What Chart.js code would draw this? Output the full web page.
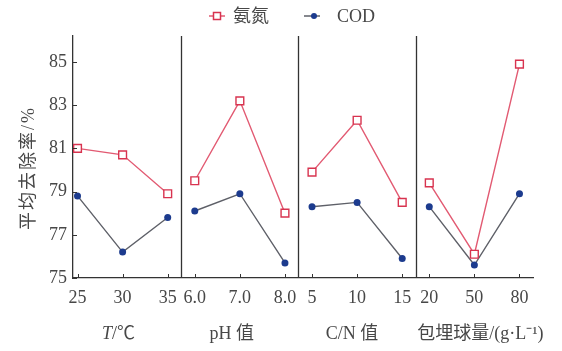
<!DOCTYPE html>
<html>
<head>
<meta charset="utf-8">
<script src="https://cdn.jsdelivr.net/npm/chart.js@4.4.1/dist/chart.umd.min.js"></script>
<style>
  html, body { margin: 0; padding: 0; background: #fff; }
  #wrap { width: 562px; height: 351px; position: relative; }
</style>
</head>
<body>
<div id="wrap"><canvas id="chart"></canvas></div>
<script>
// factor levels (one group per panel)
const tempLevels = ['25', '30', '35'];
const phLevels = ['6.0', '7.0', '8.0'];
const cnLevels = ['5', '10', '15'];
const beadLevels = ['20', '50', '80'];

// average removal rate, %
const ammoniaRemoval = [
  [81.0, 80.7, 78.9],
  [79.5, 83.2, 78.0],
  [79.9, 82.3, 78.5],
  [79.4, 76.1, 84.9]
];
const codRemoval = [
  [78.8, 76.2, 77.8],
  [78.1, 78.9, 75.7],
  [78.3, 78.5, 75.9],
  [78.3, 75.6, 78.9]
];

const yTicks = [75, 77, 79, 81, 83, 85];
const panelTitles = ['T/℃', 'pH 值', 'C/N 值', '包埋球量/(g·L⁻¹)'];
const seriesNames = ['氨氮', 'COD'];

const groups = [tempLevels, phLevels, cnLevels, beadLevels];
const PANEL_W = 2.6;   // width of one panel in x units
const PAD = 0.3;       // first level offset inside a panel

function xPos(p, i) { return p * PANEL_W + PAD + i; }

function buildSeries(values) {
  const pts = [];
  values.forEach((row, p) => {
    row.forEach((v, i) => pts.push({ x: xPos(p, i), y: v }));
    if (p < values.length - 1) pts.push({ x: (p + 1) * PANEL_W, y: null });
  });
  return pts;
}

const xTickVals = [];
const xTickText = {};
groups.forEach((g, p) => g.forEach((lab, i) => {
  const x = xPos(p, i);
  xTickVals.push(x);
  xTickText[x.toFixed(2)] = lab;
}));

const serif = '"Liberation Serif", "Times New Roman", "Noto Sans CJK SC", serif';
const axisColor = '#333';
const textColor = '#474747';

const extras = {
  id: 'extras',
  afterDraw(chart) {
    const { ctx, chartArea: a, scales: { x, y } } = chart;
    ctx.save();
    ctx.strokeStyle = axisColor;
    ctx.lineWidth = 1.3;
    // panel dividers
    for (let p = 1; p < groups.length; p++) {
      const px = Math.round(x.getPixelForValue(p * PANEL_W)) + 0.5;
      ctx.beginPath();
      ctx.moveTo(px, a.top);
      ctx.lineTo(px, a.bottom);
      ctx.stroke();
    }
    // inside tick marks
    ctx.lineWidth = 1;
    xTickVals.forEach(v => {
      const px = Math.round(x.getPixelForValue(v)) + 0.5;
      ctx.beginPath();
      ctx.moveTo(px, a.bottom);
      ctx.lineTo(px, a.bottom - 4);
      ctx.stroke();
    });
    yTicks.forEach(v => {
      const py = Math.round(y.getPixelForValue(v)) + 0.5;
      ctx.beginPath();
      ctx.moveTo(a.left, py);
      ctx.lineTo(a.left + 4, py);
      ctx.stroke();
    });

    // panel titles
    ctx.fillStyle = textColor;
    ctx.textBaseline = 'middle';
    const ty = 334;
    groups.forEach((g, p) => {
      const cx = x.getPixelForValue(xPos(p, 1));
      const t = panelTitles[p];
      if (p === 0) {
        // italic T
        ctx.font = 'italic 18px ' + serif;
        const w1 = ctx.measureText('T').width;
        ctx.font = '18px ' + serif;
        const rest = t.slice(1);
        const w2 = ctx.measureText(rest).width;
        let sx = cx - 4 - (w1 + w2) / 2;
        ctx.textAlign = 'left';
        ctx.font = 'italic 18px ' + serif;
        ctx.fillText('T', sx, ty);
        ctx.font = '18px ' + serif;
        ctx.fillText(rest, sx + w1, ty);
      } else {
        ctx.font = '18px ' + serif;
        ctx.textAlign = 'center';
        const off = p === 3 ? 6 : (p === 1 ? -8 : -5);
        ctx.fillText(t, cx + off, ty);
      }
    });

    // y axis title
    ctx.save();
    ctx.translate(29, 168);
    ctx.rotate(-Math.PI / 2);
    ctx.font = '18px ' + serif;
    ctx.textAlign = 'center';
    ctx.textBaseline = 'middle';
    ctx.letterSpacing = '2px';
    ctx.fillText('平均去除率/%', 0, 0);
    ctx.restore();

    // legend
    const ly = 16;
    const items = [
      { x: 209, gap: 24, ds: chart.data.datasets[0] },
      { x: 304, gap: 33, ds: chart.data.datasets[1] }
    ];
    items.forEach(it => {
      const ds = it.ds;
      ctx.strokeStyle = ds.borderColor;
      ctx.lineWidth = 1.5;
      ctx.beginPath();
      ctx.moveTo(it.x, ly);
      ctx.lineTo(it.x + 16, ly);
      ctx.stroke();
      if (ds.pointStyle === 'rect') {
        ctx.fillStyle = '#fff';
        ctx.strokeStyle = ds.pointBorderColor;
        ctx.fillRect(it.x + 4.5, ly - 3.5, 7, 7);
        ctx.strokeRect(it.x + 4.5, ly - 3.5, 7, 7);
      } else {
        ctx.fillStyle = ds.pointBackgroundColor;
        ctx.beginPath();
        ctx.arc(it.x + 10, ly, 3, 0, Math.PI * 2);
        ctx.fill();
      }
      ctx.fillStyle = textColor;
      ctx.font = '18px ' + serif;
      ctx.textAlign = 'left';
      ctx.textBaseline = 'middle';
      ctx.fillText(ds.label, it.x + it.gap, ly + 1);
    });
    ctx.restore();
  }
};

new Chart(document.getElementById('chart'), {
  type: 'line',
  data: {
    datasets: [
      {
        label: seriesNames[0],
        data: buildSeries(ammoniaRemoval),
        borderColor: '#e25a72',
        borderWidth: 1.4,
        pointStyle: 'rect',
        pointRadius: 5.5,
        pointBorderWidth: 1.4,
        pointBackgroundColor: '#fff',
        pointBorderColor: '#d8334f',
        spanGaps: false,
        tension: 0
      },
      {
        label: seriesNames[1],
        data: buildSeries(codRemoval),
        borderColor: '#5e6068',
        borderWidth: 1.4,
        pointStyle: 'circle',
        pointRadius: 3.5,
        pointBorderWidth: 0,
        pointBackgroundColor: '#1c3b8e',
        pointBorderColor: '#1c3b8e',
        spanGaps: false,
        tension: 0
      }
    ]
  },
  options: {
    responsive: true,
    maintainAspectRatio: false,
    animation: false,
    events: [],
    layout: { padding: { top: 36, right: 29, left: 0, bottom: 0 } },
    plugins: {
      legend: { display: false },
      tooltip: { enabled: false }
    },
    scales: {
      x: {
        type: 'linear',
        min: 0.2,
        max: groups.length * PANEL_W,
        afterBuildTicks: s => { s.ticks = xTickVals.map(v => ({ value: v })); },
        afterFit: s => { s.height = 73; },
        grid: { display: false, drawTicks: false },
        border: { display: true, color: axisColor, width: 1.3 },
        ticks: {
          padding: 9,
          maxRotation: 0,
          autoSkip: false,
          color: textColor,
          font: { family: serif, size: 18 },
          callback: v => xTickText[Number(v).toFixed(2)] || ''
        }
      },
      y: {
        min: 75,
        max: 86.2,
        afterBuildTicks: s => { s.ticks = yTicks.map(v => ({ value: v })); },
        afterFit: s => { s.width = 73; },
        grid: { display: false, drawTicks: false },
        border: { display: true, color: axisColor, width: 1.3 },
        ticks: {
          padding: 6,
          color: textColor,
          font: { family: serif, size: 18 }
        }
      }
    }
  },
  plugins: [extras]
});
</script>
</body>
</html>
